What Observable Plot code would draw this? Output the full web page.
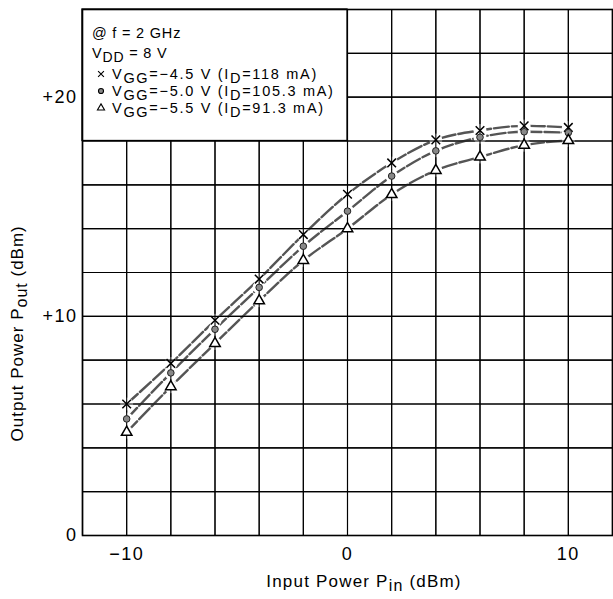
<!DOCTYPE html>
<html>
<head>
<meta charset="utf-8">
<script src="https://cdn.jsdelivr.net/npm/d3@7"></script>
<script src="https://cdn.jsdelivr.net/npm/@observablehq/plot@0.6"></script>
<style>
  html, body { margin: 0; padding: 0; background: white; }
  #chart svg { display: block; }
</style>
</head>
<body>
<div id="chart"></div>
<script>
// Input power (dBm)
const pin = [-10, -8, -6, -4, -2, 0, 2, 4, 6, 8, 10];
// Output power (dBm) for each gate bias
const pout45 = [6.0, 7.85, 9.82, 11.7, 13.73, 15.57, 17.0, 18.05, 18.48, 18.69, 18.62];
const pout50 = [5.32, 7.42, 9.41, 11.32, 13.2, 14.8, 16.4, 17.55, 18.17, 18.42, 18.38];
const pout55 = [4.71, 6.79, 8.76, 10.71, 12.55, 14.0, 15.56, 16.66, 17.27, 17.81, 18.02];
const seriesNames = ["-4.5", "-5.0", "-5.5"];
const currents = ["118", "105.3", "91.3"];
const xTicks = [-10, 0, 10];
const yTicks = [0, 10, 20];
const xDomain = [-12, 12];
const yDomain = [0, 24];
const gridStep = 2;
const legendBox = [{x1: -12, x2: 0, y1: 18, y2: 24}];

const allSeries = [pout45, pout50, pout55];
const data = allSeries.flatMap((vals, i) => pin.map((p, j) => ({pin: p, pout: vals[j], s: seriesNames[i]})));
const byS = s => data.filter(d => d.s === s);

const font = "'Liberation Sans', Arial, Helvetica, sans-serif";
const minus = d => d < 0 ? "\u2212" + (-d) : String(d);
const plus = d => d > 0 ? "+" + d : String(d);

const gridX = d3.range(xDomain[0], xDomain[1] + 0.001, gridStep);
const gridY = d3.range(yDomain[0], yDomain[1] + 0.001, gridStep);
const gridMarks = () => [
  Plot.ruleX(gridX, {stroke: "black", strokeWidth: 1.1}),
  Plot.ruleY(gridY, {stroke: "black", strokeWidth: 1.1})
];

const plot = Plot.plot({
  width: 613,
  height: 599,
  marginLeft: 82,
  marginRight: 1,
  marginTop: 9,
  marginBottom: 64,
  style: {fontFamily: font, fontSize: "18px", color: "black", background: "white"},
  x: {domain: xDomain, label: null},
  y: {domain: yDomain, label: null},
  marks: [
    ...gridMarks(),
    ...seriesNames.map(s => Plot.line(byS(s), {x: "pin", y: "pout", stroke: "#555", strokeWidth: 2.4, strokeDasharray: "15,3", curve: "monotone-x"})),
    Plot.dot(data, {x: "pin", y: "pout", r: 6.5, fill: "white", stroke: "none"}),
    ...gridMarks(),
    Plot.rect(legendBox, {x1: "x1", x2: "x2", y1: "y1", y2: "y2", fill: "white", stroke: "black", strokeWidth: 1.3}),
    Plot.dot(byS("-4.5"), {x: "pin", y: "pout", symbol: "times", r: 4, stroke: "black", strokeWidth: 1.5}),
    Plot.dot(byS("-5.0"), {x: "pin", y: "pout", symbol: "circle", r: 3.3, fill: "#888", stroke: "#222", strokeWidth: 1}),
    Plot.dot(byS("-5.5"), {x: "pin", y: "pout", symbol: "triangle", r: 3.9, fill: "white", stroke: "black", strokeWidth: 1.5}),
    Plot.frame({stroke: "black", strokeWidth: 1.6}),
    Plot.axisX(xTicks, {tickSize: 0, tickPadding: 12, tickFormat: minus, fontSize: 18}),
    Plot.axisY(yTicks, {tickSize: 0, tickPadding: 5, tickFormat: plus, fontSize: 18})
  ]
});

document.getElementById("chart").appendChild(plot);

const svg = d3.select(plot);
svg.selectAll("g[aria-label='x-axis tick label'] text, g[aria-label='y-axis tick label'] text")
  .attr("letter-spacing", "1.5px");

const sx = plot.scale("x"), sy = plot.scale("y");
const X = v => sx.apply(v), Y = v => sy.apply(v);

function richText(g, x, y, parts, size, subSize, spacing) {
  const t = g.append("text").attr("x", x).attr("y", y)
    .attr("text-anchor", "start")
    .attr("font-family", font).attr("font-size", size).attr("fill", "black")
    .attr("letter-spacing", spacing + "px");
  let shift = 0;
  parts.forEach(([str, sub]) => {
    const target = sub ? 4 : 0;
    const ts = t.append("tspan").text(str).attr("dy", target - shift);
    if (sub) ts.attr("font-size", subSize);
    shift = target;
  });
  return t;
}

const g = svg.append("g");
const lx = X(-12) + 10;
const lsx = X(-12) + 19;
const ltx = X(-12) + 30;
richText(g, lx, 38, [["@ f = 2 GHz", false]], 14.5, 14, 0.8);
richText(g, lx, 58, [["V", false], ["DD", true], [" = 8 V", false]], 14.5, 14, 0.8);
const rows = [79, 96, 113];
seriesNames.forEach((s, i) => {
  richText(g, ltx, rows[i], [["V", false], ["GG", true], ["=\u2212" + s.slice(1) + " V (I", false], ["D", true], ["=" + currents[i] + " mA)", false]], 14.5, 14.5, 1.7);
});
const sym = [d3.symbolTimes, d3.symbolCircle, d3.symbolTriangle];
const sz = [24, 20, 22];
const fills = ["none", "#888", "white"];
sym.forEach((t, i) => {
  g.append("path").attr("d", d3.symbol(t, sz[i])())
    .attr("transform", `translate(${lsx},${rows[i] - 5})`)
    .attr("fill", fills[i]).attr("stroke", "black").attr("stroke-width", 1.1);
});

// Axis titles
const xt = richText(g, X(0) + 17, 587, [["Input Power P", false], ["in", true], [" (dBm)", false]], 17, 16, 1.2);
xt.attr("text-anchor", "middle");
const yt = richText(g, 0, 0, [["Output Power P", false], ["out", true], [" (dBm)", false]], 17, 16, 1);
yt.attr("text-anchor", "middle")
  .attr("transform", `translate(23, ${Y(9.2)}) rotate(-90)`);
</script>
</body>
</html>
